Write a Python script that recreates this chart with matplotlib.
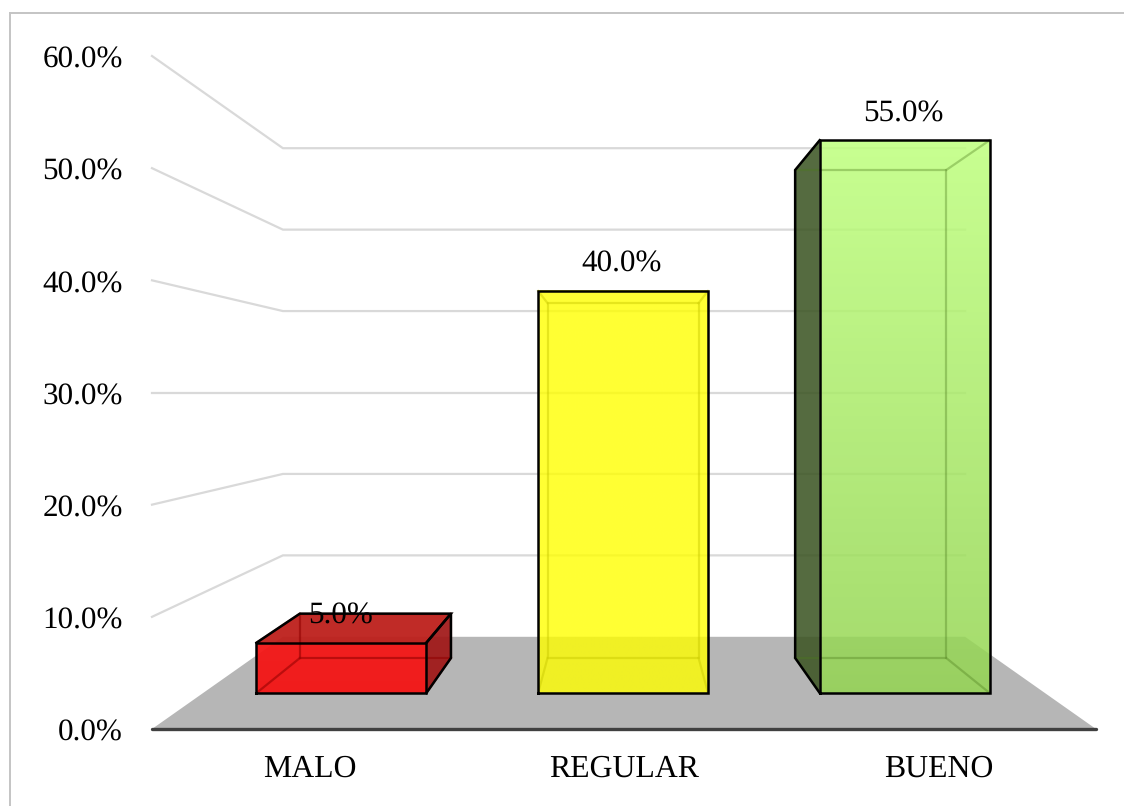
#!/usr/bin/env python3
"""Fake 3D column chart: MALO / REGULAR / BUENO."""
import matplotlib
matplotlib.use('Agg')
import matplotlib.pyplot as plt
from matplotlib.lines import Line2D
from matplotlib.patches import Polygon
from matplotlib.transforms import ScaledTranslation
import numpy as np

plt.rcParams['font.family'] = ['Liberation Serif', 'DejaVu Serif']
plt.rcParams['text.hinting'] = 'no_hinting'

categories = ['MALO', 'REGULAR', 'BUENO']
values = [5.0, 40.0, 55.0]
y_ticks = [0, 10, 20, 30, 40, 50, 60]

W, H = 1124, 806
fig = plt.figure(figsize=(W / 100, H / 100), dpi=100)
ax = fig.add_axes([152 / W, 1 - 729 / H, (1096 - 152) / W, (729 - 56) / H])
ax.set_xlim(-0.5, 2.5)
ax.set_ylim(0, 60)
ax.patch.set_alpha(0)

# depth planes: (y base, y scale, x scale about the middle category)
FRONT = (3.21, 0.896, 0.895)
BACK = (6.33, 0.791, 0.787)
WALL = (8.22, 0.726, 0.0)
HALF_FRONT = 0.27
HALF_BACK = 0.24
MID = 0.997
WALL_L, WALL_R = -0.084, 2.084


def py(plane, v):
    return plane[0] + v * plane[1]


def px(plane, i):
    return MID + (i - 1) * plane[2]


# floor
ax.add_patch(Polygon([(-0.5, 0), (2.5, 0), (WALL_R, py(WALL, 0)), (WALL_L, py(WALL, 0))],
                     fc='#b6b6b6', ec='none', zorder=1))

# grid lines, bent at the wall
for t in y_ticks[1:]:
    ax.plot([-0.5, WALL_L, WALL_R], [t, py(WALL, t), py(WALL, t)],
            color='#d9d9d9', lw=1.6, zorder=2, clip_on=False)

# per bar colours
front_top = [(0.96, 0.09, 0.09), (1.0, 1.0, 0.0), (0.745, 1.0, 0.49)]
front_bottom = [(0.96, 0.08, 0.08), (1.0, 1.0, 0.0), (0.58, 0.835, 0.32)]
front_alpha = [0.95, 0.80, 0.85]
top_col = ['#bd1f1b', '#f2f21e', '#b4e878']
side_col = ['#a01515', '#e8e81e', '#3c5523']
inner_col = ['#900000', '#c8c800', '#4a7a1a']
inner_alpha = [0.55, 0.45, 0.35]

for i, v in enumerate(values):
    fl, fr = px(FRONT, i) - HALF_FRONT, px(FRONT, i) + HALF_FRONT
    bl, br = px(BACK, i) - HALF_BACK, px(BACK, i) + HALF_BACK
    f0, f1 = py(FRONT, 0), py(FRONT, v)
    b0, b1 = py(BACK, 0), py(BACK, v)
    top_seen = b1 > f1
    left_seen = bl < fl
    right_seen = br > fr

    # see-through faces
    if top_seen:
        ax.add_patch(Polygon([(fl, f1), (fr, f1), (br, b1), (bl, b1)],
                             fc=top_col[i], ec='none', alpha=0.95, zorder=3))
    if left_seen:
        ax.add_patch(Polygon([(fl, f0), (fl, f1), (bl, b1), (bl, b0)],
                             fc=side_col[i], ec='none', alpha=0.87, zorder=3))
    if right_seen:
        ax.add_patch(Polygon([(fr, f0), (fr, f1), (br, b1), (br, b0)],
                             fc=side_col[i], ec='none', alpha=0.92, zorder=3))

    # front face gradient
    grad = np.zeros((64, 1, 4))
    grad[..., :3] = np.linspace(front_top[i], front_bottom[i], 64)[:, None, :]
    grad[..., 3] = front_alpha[i]
    ax.imshow(grad, extent=(fl, fr, f0, f1), aspect='auto', zorder=4,
              interpolation='bilinear')

    # inner edges
    inner = dict(color=inner_col[i], alpha=inner_alpha[i], lw=1.6, zorder=5)
    ax.plot([bl, br, br, bl, bl], [b0, b0, b1, b1, b0], **inner)
    for xf, xb in [(fl, bl), (fr, br)]:
        ax.plot([xf, xb], [f0, b0], **inner)
        ax.plot([xf, xb], [f1, b1], **inner)

    # black outline of what faces the viewer
    ec = dict(color='black', lw=1.8, zorder=6, solid_joinstyle='miter')
    ax.plot([fl, fr, fr, fl, fl], [f0, f0, f1, f1, f0], **ec)
    if top_seen:
        ax.plot([fl, bl, br, fr], [f1, b1, b1, f1], **ec)
    if left_seen:
        ax.plot([fl, bl, bl, fl], [f1, b1, b0, f0], **ec)
    if right_seen:
        ax.plot([fr, br, br, fr], [f1, b1, b0, f0], **ec)

    ax.annotate(f'{v:.1f}%', xy=((fl + fr) / 2, f1), xytext=(-0.7, 19),
                textcoords='offset points', ha='center', va='center',
                fontsize=22.4, color='black', zorder=7)

ax.set_xlim(-0.5, 2.5)
ax.set_ylim(0, 60)

ax.set_xticks(range(len(categories)), categories, fontsize=22.9)
ax.set_yticks(y_ticks, [f'{t:.1f}%' for t in y_ticks], fontsize=22.4)
ax.tick_params(axis='x', length=0, pad=18)
ax.tick_params(axis='y', length=0, pad=21)
# y tick labels sit a pixel lower than matplotlib centres them
nudge = ScaledTranslation(0, -1 / 100, fig.dpi_scale_trans)
for lab in ax.get_yticklabels():
    lab.set_transform(lab.get_transform() + nudge)
for side in ['top', 'left', 'right']:
    ax.spines[side].set_visible(False)
ax.spines['bottom'].set_color('#404040')
ax.spines['bottom'].set_linewidth(2.4)
ax.spines['bottom'].set_capstyle('round')
ax.spines['bottom'].set_zorder(8)

# chart frame, only top and left fall inside the picture
frame = dict(color='#c4c4c4', lw=1.4, transform=fig.transFigure)
fig.add_artist(Line2D([10 / W, 1], [1 - 13 / H, 1 - 13 / H], **frame))
fig.add_artist(Line2D([10 / W, 10 / W], [0, 1 - 13 / H], **frame))

fig.savefig('out.png', dpi=100)
